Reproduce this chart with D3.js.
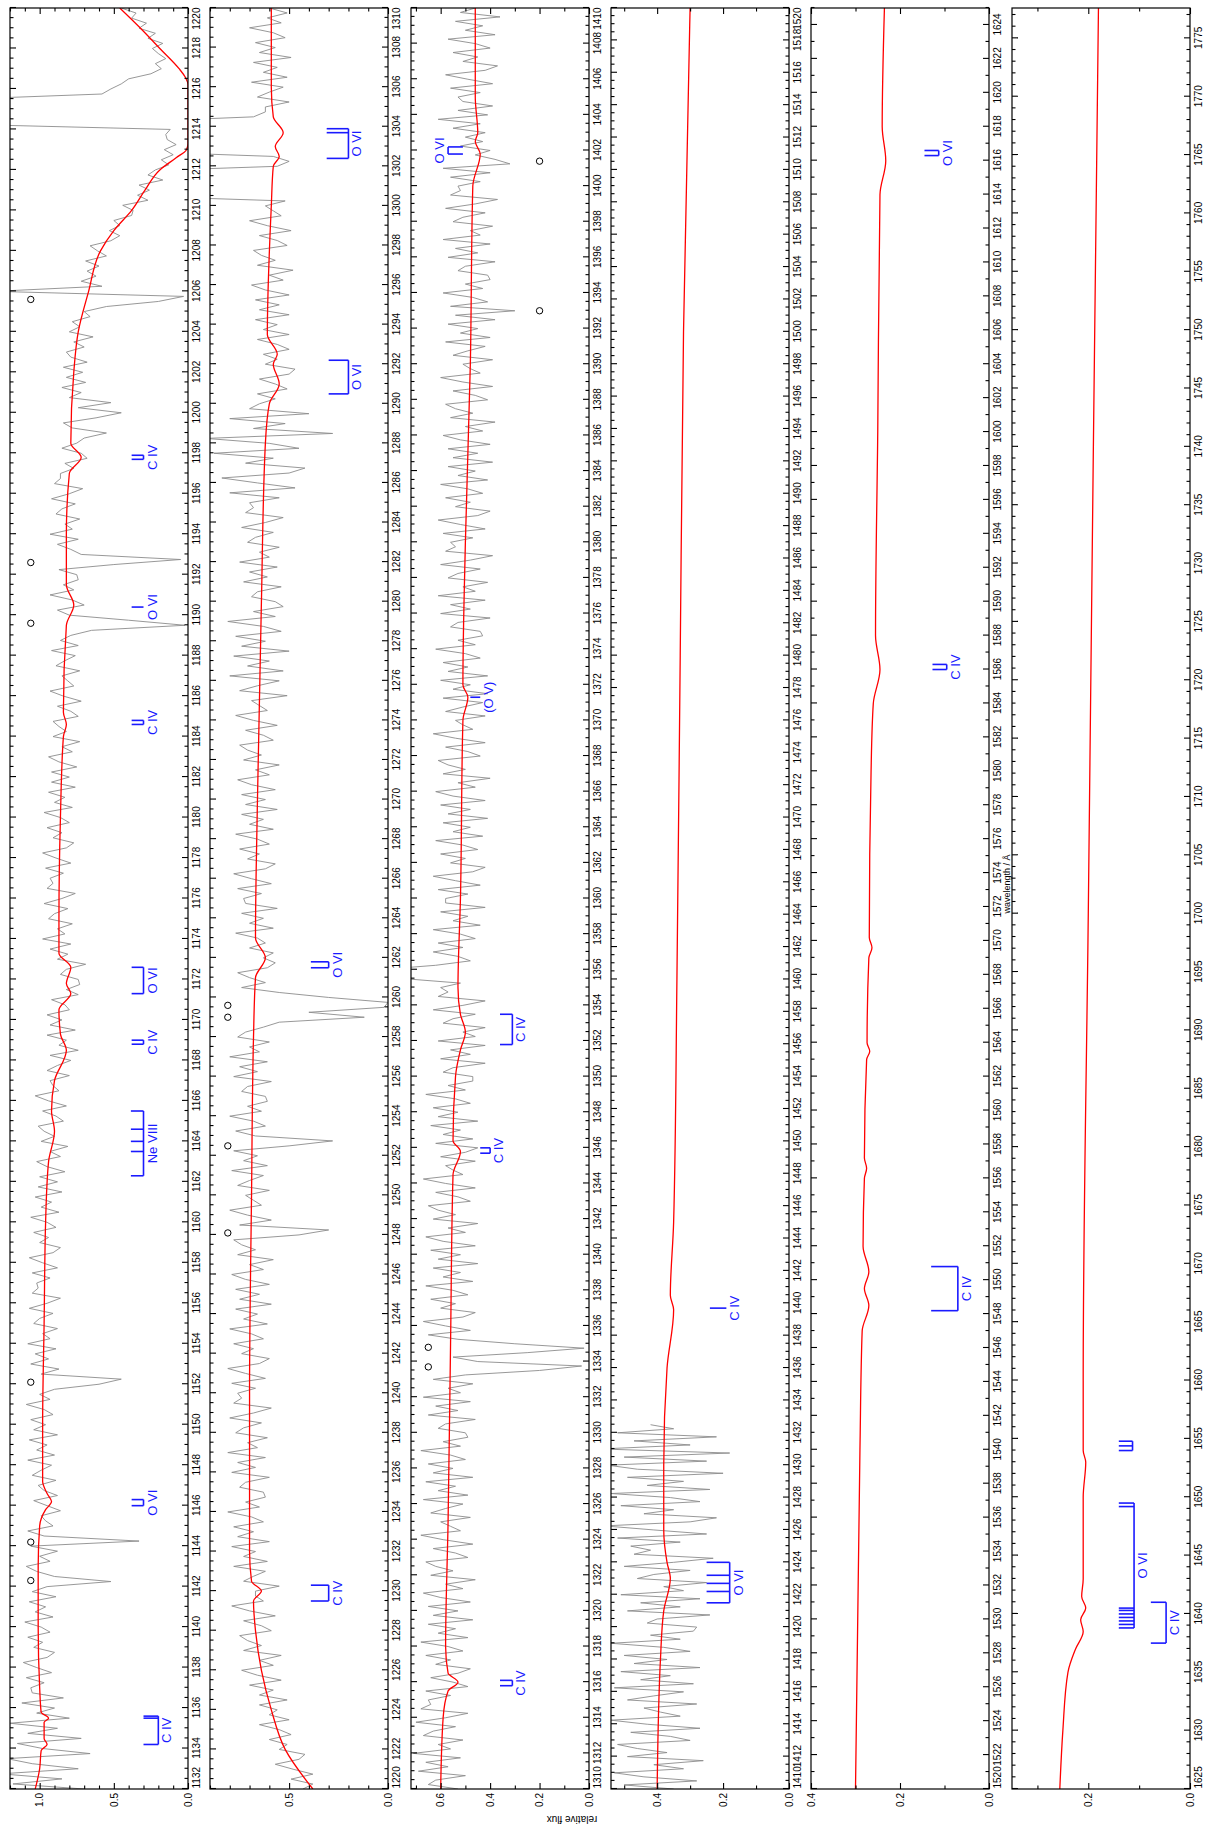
<!DOCTYPE html>
<html>
<head>
<meta charset="utf-8">
<script src="https://cdn.jsdelivr.net/npm/d3@7"></script>
<style>
  body { margin: 0; background: #fff; }
  svg { display: block; }
  text { font-family: "Liberation Sans", Arial, sans-serif; }
</style>
</head>
<body>
<div id="chart"></div>
<script>
// ---- data -------------------------------------------------------------
const panelRanges = [[1132, 1220], [1220, 1310], [1310, 1410], [1410, 1520], [1520, 1625], [1625, 1777.6]];
const fluxMax = [1.2, 0.9, 0.72, 0.54, 0.40, 0.35];
const fluxLabels = [[0, 0.5, 1.0], [0, 0.5], [0, 0.2, 0.4, 0.6], [0, 0.2, 0.4], [0, 0.2, 0.4], [0, 0.2]];
const waveLabelStep = [2, 2, 2, 2, 2, 5];
const waveMinorStep = [0.5, 0.5, 0.5, 0.5, 1, 1];

// observed spectrum (grey), 0.25 A grid, one row = 5 A
const obsStart = [1132, 1220, 1310, 1410];
const obsStep = [0.25, 0.25, 0.25, 0.25];
const obsFlux1 = [
  0.70, 1.18, 0.85, 1.26, 0.74, 1.05, 1.22, 0.66, 0.98, 1.15, 0.72, 1.08, 0.88, 1.20, 0.80, 1.02, 0.90, 1.12, 0.84, 1.05,
  1.06, 0.97, 1.09, 0.92, 1.02, 1.11, 0.95, 0.90, 1.04, 0.98, 1.08, 0.93, 0.99, 1.10, 0.91, 1.03, 0.96, 1.07, 0.89, 1.05,
  0.95, 0.52, 0.90, 1.02, 1.09, 0.93, 1.00, 0.88, 1.06, 0.33, 0.97, 1.08, 0.91, 0.96, 0.99, 0.86, 0.95, 1.04, 0.88, 0.97,
  1.01, 0.89, 1.05, 0.99, 0.92, 1.08, 0.90, 1.02, 0.95, 1.07, 0.88, 1.04, 0.96, 1.06, 0.91, 0.97, 1.09, 0.93, 1.00, 0.90,
  0.60, 0.45, 0.99, 0.87, 1.06, 0.94, 1.03, 0.89, 1.08, 0.93, 0.98, 0.88, 1.04, 1.00, 0.91, 1.07, 0.95, 0.86, 1.05, 1.01,
  1.02, 0.93, 1.05, 0.88, 0.98, 1.07, 0.91, 0.86, 1.00, 0.94, 1.04, 0.89, 0.95, 1.06, 0.87, 0.99, 0.92, 1.03, 0.85, 1.01,
  0.88, 1.00, 0.83, 0.95, 1.02, 0.86, 0.93, 0.81, 0.99, 0.90, 0.97, 1.01, 0.84, 0.89, 0.98, 0.82, 0.94, 1.03, 0.87, 0.91,
  0.93, 0.80, 0.95, 0.88, 0.79, 0.93, 0.74, 0.87, 0.82, 0.95, 0.76, 0.93, 0.85, 0.95, 0.80, 0.83, 0.92, 0.74, 0.82, 0.73,
  0.74, 0.86, 0.82, 0.69, 0.88, 0.81, 0.93, 0.79, 0.98, 0.83, 0.88, 0.78, 0.94, 0.90, 0.81, 0.97, 0.85, 0.76, 0.95, 0.91,
  0.93, 0.84, 0.96, 0.79, 0.89, 0.98, 0.82, 0.77, 0.91, 0.85, 0.95, 0.80, 0.86, 0.97, 0.78, 0.90, 0.83, 0.94, 0.76, 0.92,
  0.80, 0.92, 0.75, 0.87, 0.94, 0.78, 0.85, 0.73, 0.91, 0.82, 0.87, 0.91, 0.74, 0.79, 0.88, 0.72, 0.84, 0.93, 0.77, 0.81,
  0.85, 0.73, 0.89, 0.83, 0.76, 0.92, 0.74, 0.86, 0.79, 0.65, 0.02, 0.40, 0.80, 0.88, 0.70, 0.78, 0.93, 0.77, 0.84, 0.74,
  0.75, 0.87, 0.50, 0.05, 0.72, 0.79, 0.88, 0.74, 0.93, 0.78, 0.83, 0.73, 0.89, 0.85, 0.76, 0.92, 0.80, 0.71, 0.90, 0.86,
  0.86, 0.77, 0.83, 0.68, 0.72, 0.85, 0.75, 0.70, 0.55, 0.78, 0.84, 0.62, 0.45, 0.74, 0.52, 0.80, 0.72, 0.85, 0.69, 0.82,
  0.71, 0.84, 0.68, 0.79, 0.82, 0.70, 0.77, 0.64, 0.80, 0.73, 0.78, 0.66, 0.70, 0.55, 0.20, 0.03, 1.30, 0.58, 0.72, 0.62,
  0.68, 0.60, 0.69, 0.55, 0.61, 0.66, 0.52, 0.46, 0.53, 0.46, 0.50, 0.38, 0.37, 0.44, 0.27, 0.34, 0.26, 0.33, 0.17, 0.27,
  0.22, 0.13, 0.18, 0.10, 0.16, 0.08, 0.14, 0.15, 0.12, 1.50, 1.50, 1.50, 1.50, 1.50, 1.50, 0.58, 0.52, 0.45, 0.40, 0.25,
  0.18, 0.22, 0.15, 0.20, 0.24, 0.17, 0.27, 0.22, 0.33, 0.28, 0.38, 0.35, 0.45];
const obsFlux2 = [
  0.43, 0.38, 0.49, 0.38, 0.48, 0.57, 0.45, 0.42, 0.55, 0.51, 0.60, 0.49, 0.55, 0.65, 0.50, 0.60, 0.56, 0.65, 0.51, 0.65,
  0.58, 0.70, 0.54, 0.66, 0.74, 0.58, 0.65, 0.54, 0.73, 0.64, 0.71, 0.75, 0.59, 0.64, 0.73, 0.57, 0.70, 0.79, 0.63, 0.67,
  0.67, 0.55, 0.73, 0.68, 0.62, 0.78, 0.61, 0.73, 0.67, 0.79, 0.60, 0.76, 0.68, 0.78, 0.63, 0.69, 0.81, 0.65, 0.72, 0.62,
  0.63, 0.75, 0.72, 0.60, 0.79, 0.67, 0.76, 0.62, 0.81, 0.66, 0.71, 0.61, 0.77, 0.73, 0.64, 0.80, 0.68, 0.59, 0.78, 0.74,
  0.76, 0.67, 0.79, 0.62, 0.72, 0.81, 0.65, 0.60, 0.74, 0.68, 0.78, 0.63, 0.69, 0.80, 0.61, 0.73, 0.66, 0.77, 0.59, 0.75,
  0.65, 0.77, 0.60, 0.72, 0.79, 0.63, 0.70, 0.58, 0.76, 0.67, 0.74, 0.78, 0.45, 0.30, 0.75, 0.59, 0.71, 0.80, 0.64, 0.68,
  0.72, 0.60, 0.76, 0.70, 0.63, 0.79, 0.61, 0.73, 0.66, 0.78, 0.50, 0.28, 0.67, 0.77, 0.62, 0.68, 0.80, 0.64, 0.71, 0.61,
  0.62, 0.74, 0.71, 0.59, 0.78, 0.66, 0.75, 0.61, 0.80, 0.65, 0.70, 0.60, 0.76, 0.72, 0.63, 0.55, 0.12, 0.40, 0.02, 0.00,
  0.30, 0.55, 0.74, 0.62, 0.70, 0.76, 0.61, 0.57, 0.63, 0.58, 0.70, 0.62, 0.66, 0.77, 0.58, 0.70, 0.63, 0.74, 0.56, 0.72,
  0.73, 0.64, 0.76, 0.59, 0.69, 0.78, 0.62, 0.57, 0.71, 0.65, 0.75, 0.60, 0.66, 0.77, 0.58, 0.70, 0.63, 0.74, 0.56, 0.72,
  0.62, 0.74, 0.57, 0.69, 0.76, 0.60, 0.67, 0.55, 0.73, 0.64, 0.71, 0.75, 0.58, 0.63, 0.72, 0.56, 0.68, 0.77, 0.61, 0.65,
  0.69, 0.51, 0.75, 0.66, 0.55, 0.80, 0.53, 0.71, 0.60, 0.78, 0.50, 0.74, 0.62, 0.77, 0.54, 0.63, 0.81, 0.57, 0.68, 0.53,
  0.57, 0.69, 0.66, 0.54, 0.73, 0.61, 0.70, 0.56, 0.75, 0.60, 0.65, 0.55, 0.71, 0.67, 0.58, 0.74, 0.62, 0.53, 0.72, 0.68,
  0.70, 0.55, 0.80, 0.47, 0.66, 0.84, 0.50, 0.42, 0.72, 0.58, 0.88, 0.45, 0.60, 0.92, 0.28, 0.68, 0.52, 0.80, 0.40, 0.70,
  0.65, 0.57, 0.66, 0.51, 0.57, 0.65, 0.50, 0.47, 0.62, 0.56, 0.63, 0.50, 0.56, 0.66, 0.50, 0.63, 0.56, 0.67, 0.50, 0.65,
  0.55, 0.67, 0.50, 0.62, 0.69, 0.53, 0.60, 0.48, 0.66, 0.57, 0.64, 0.68, 0.51, 0.56, 0.65, 0.49, 0.61, 0.70, 0.54, 0.58,
  0.62, 0.52, 1.30, 1.30, 1.30, 1.30, 1.30, 1.30, 0.56, 0.50, 0.58, 1.30, 1.30, 1.30, 1.30, 1.30, 1.30, 1.30, 0.68, 0.62,
  0.62, 0.50, 0.66, 0.60, 0.53, 0.69, 0.51, 0.63, 0.56, 0.68, 0.49, 0.65, 0.57, 0.67, 0.52, 0.58, 0.70, 0.54, 0.61, 0.51,
  0.60];
const obsFlux3 = [
  0.53, 0.65, 0.62, 0.50, 0.69, 0.57, 0.66, 0.52, 0.71, 0.56, 0.61, 0.51, 0.67, 0.63, 0.54, 0.70, 0.58, 0.49, 0.68, 0.64,
  0.65, 0.56, 0.66, 0.49, 0.55, 0.64, 0.53, 0.48, 0.62, 0.56, 0.66, 0.51, 0.57, 0.68, 0.49, 0.61, 0.54, 0.65, 0.47, 0.63,
  0.53, 0.65, 0.48, 0.60, 0.67, 0.51, 0.58, 0.46, 0.64, 0.55, 0.62, 0.66, 0.49, 0.54, 0.63, 0.47, 0.59, 0.68, 0.52, 0.56,
  0.60, 0.48, 0.64, 0.58, 0.51, 0.67, 0.49, 0.61, 0.54, 0.66, 0.47, 0.63, 0.55, 0.65, 0.50, 0.56, 0.68, 0.52, 0.59, 0.49,
  0.50, 0.61, 0.58, 0.46, 0.65, 0.53, 0.62, 0.48, 0.67, 0.52, 0.57, 0.47, 0.63, 0.50, 0.20, 0.03, 0.45, 0.55, 0.25, 0.02,
  0.30, 0.53, 0.65, 0.48, 0.58, 0.67, 0.51, 0.46, 0.60, 0.54, 0.64, 0.49, 0.55, 0.66, 0.47, 0.59, 0.52, 0.63, 0.45, 0.61,
  0.52, 0.64, 0.46, 0.59, 0.66, 0.50, 0.57, 0.45, 0.63, 0.54, 0.61, 0.65, 0.48, 0.53, 0.62, 0.46, 0.58, 0.67, 0.51, 0.55,
  0.58, 0.46, 0.60, 0.50, 0.45, 0.62, 0.47, 0.59, 0.52, 0.64, 0.45, 0.61, 0.53, 0.63, 0.48, 0.54, 0.66, 0.50, 0.57, 0.47,
  0.47, 0.59, 0.55, 0.42, 0.60, 0.48, 0.56, 0.42, 0.61, 0.46, 0.51, 0.42, 0.59, 0.55, 0.46, 0.63, 0.51, 0.42, 0.61, 0.57,
  0.60, 0.52, 0.75, 1.00, 0.85, 0.62, 0.48, 0.53, 0.63, 0.51, 0.61, 0.46, 0.52, 0.63, 0.44, 0.55, 0.49, 0.60, 0.42, 0.58,
  0.58, 0.49, 0.61, 0.44, 0.54, 0.63, 0.47, 0.42, 0.56, 0.50, 0.60, 0.45, 0.51, 0.62, 0.43, 0.55, 0.48, 0.59, 0.41, 0.57,
  0.48, 0.60, 0.42, 0.55, 0.62, 0.46, 0.53, 0.40, 0.59, 0.50, 0.57, 0.61, 0.44, 0.49, 0.58, 0.42, 0.54, 0.63, 0.47, 0.51,
  0.54, 0.42, 0.58, 0.51, 0.43, 0.59, 0.41, 0.55, 0.48, 0.60, 0.41, 0.57, 0.49, 0.59, 0.44, 0.50, 0.62, 0.46, 0.53, 0.43,
  0.44, 0.56, 0.53, 0.40, 0.60, 0.48, 0.56, 0.42, 0.61, 0.46, 0.51, 0.41, 0.57, 0.53, 0.44, 0.60, 0.48, 0.39, 0.58, 0.54,
  0.56, 0.47, 0.59, 0.42, 0.52, 0.61, 0.45, 0.40, 0.54, 0.48, 0.58, 0.43, 0.49, 0.60, 0.41, 0.53, 0.46, 0.57, 0.39, 0.55,
  0.45, 0.57, 0.40, 0.52, 0.59, 0.43, 0.50, 0.38, 0.56, 0.47, 0.54, 0.58, 0.41, 0.46, 0.55, 0.39, 0.51, 0.60, 0.44, 0.48,
  0.51, 0.39, 0.55, 0.49, 0.42, 0.58, 0.40, 0.52, 0.45, 0.57, 0.38, 0.54, 0.30, 0.56, 0.41, 0.47, 0.59, 0.43, 0.50, 0.40,
  0.41, 0.53, 0.50, 0.38, 0.57, 0.45, 0.54, 0.40, 0.59, 0.44, 0.48, 0.39, 0.55, 0.51, 0.42, 0.58, 0.46, 0.37, 0.56, 0.52,
  0.53, 0.44, 0.56, 0.40, 0.59, 0.32, 0.38, 0.46, 0.40, 0.52, 0.43, 0.50, 0.42, 0.55, 0.44, 0.61, 0.41, 0.53, 0.39, 0.51,
  0.53, 0.44, 0.56, 0.39, 0.49, 0.58, 0.42, 0.37, 0.51, 0.45, 0.55, 0.40, 0.46, 0.57, 0.38, 0.50, 0.43, 0.54, 0.36, 0.52,
  0.46];
const obsFlux4 = [
  0.35, 0.50, 0.28, 0.44, 0.53, 0.32, 0.41, 0.26, 0.49, 0.37, 0.46, 0.52, 0.30, 0.36, 0.48, 0.27, 0.43, 0.54, 0.33, 0.39,
  0.44, 0.28, 0.49, 0.41, 0.32, 0.53, 0.29, 0.45, 0.36, 0.51, 0.27, 0.47, 0.37, 0.50, 0.30, 0.38, 0.54, 0.33, 0.42, 0.29,
  0.28, 0.43, 0.40, 0.24, 0.49, 0.33, 0.45, 0.27, 0.51, 0.32, 0.38, 0.25, 0.46, 0.41, 0.30, 0.50, 0.35, 0.23, 0.47, 0.42,
  0.48, 0.33, 0.52, 0.25, 0.41, 0.56, 0.30, 0.22, 0.44, 0.35, 0.51, 0.27, 0.36, 0.54, 0.24, 0.43, 0.32, 0.49, 0.20, 0.46,
  0.55, 0.25, 0.50, 0.18, 0.57, 0.30, 0.47, 0.22, 0.52, 0.35, 0.42];

// synthetic spectrum (red): [wavelength, flux]
const model1 = [[1132, 1.03], [1133, 1.0], [1133.9, 0.99], [1134.2, 0.95], [1134.5, 0.97], [1135.3, 0.97], [1135.5, 0.94], [1135.8, 0.99],
  [1137, 1.0], [1140, 1.01], [1143, 1.01], [1145, 1.0], [1145.8, 0.96], [1146.2, 0.92], [1146.6, 0.95], [1147.2, 0.98], [1150, 0.98],
  [1155, 0.97], [1160, 0.96], [1163, 0.94], [1164.5, 0.9], [1165.5, 0.92], [1167, 0.9], [1168.5, 0.82], [1169.3, 0.86], [1170.5, 0.87],
  [1171.3, 0.79], [1171.8, 0.82], [1172.6, 0.79], [1173.3, 0.87], [1175, 0.87], [1180, 0.86], [1184, 0.84], [1184.6, 0.82], [1185.2, 0.84],
  [1189.5, 0.82], [1190.5, 0.77], [1191.5, 0.82], [1194, 0.82], [1197, 0.8], [1197.8, 0.72], [1198.5, 0.79], [1202, 0.77], [1204, 0.74],
  [1206, 0.67], [1208, 0.59], [1209, 0.5], [1210, 0.38], [1211, 0.29], [1212, 0.19], [1212.6, 0.08], [1213, 0.01], [1213.3, 0],
  [1216.2, 0], [1216.6, 0.02], [1217, 0.06], [1218, 0.19], [1219, 0.32], [1220, 0.46]];
const model2 = [[1220, 0.38], [1222, 0.52], [1224, 0.59], [1226, 0.64], [1228, 0.67], [1229.5, 0.68], [1230, 0.64], [1230.5, 0.69],
  [1232, 0.7], [1240, 0.7], [1250, 0.69], [1258, 0.68], [1261, 0.67], [1262, 0.62], [1263, 0.67], [1270, 0.66], [1280, 0.64],
  [1288, 0.62], [1290, 0.6], [1291, 0.55], [1292, 0.58], [1292.5, 0.56], [1293.5, 0.61], [1300, 0.59], [1302, 0.58], [1302.5, 0.55],
  [1303, 0.57], [1303.7, 0.53], [1304.5, 0.58], [1306, 0.59], [1310, 0.59]];
const model3 = [[1310, 0.6], [1314, 0.59], [1315.5, 0.57], [1316, 0.53], [1316.5, 0.57], [1318, 0.58], [1325, 0.57], [1335, 0.56],
  [1344.5, 0.55], [1345.8, 0.52], [1346.4, 0.55], [1350, 0.54], [1351.5, 0.52], [1352.5, 0.5], [1353.5, 0.52], [1355, 0.53], [1360, 0.52],
  [1370, 0.51], [1371.3, 0.49], [1372, 0.51], [1380, 0.5], [1390, 0.48], [1400, 0.47], [1401.8, 0.44], [1402.5, 0.46], [1403, 0.45],
  [1405, 0.46], [1410, 0.46]];
const model4 = [[1410, 0.4], [1418, 0.39], [1421, 0.38], [1423, 0.36], [1424, 0.37], [1426, 0.38], [1430, 0.38], [1436, 0.37],
  [1439.6, 0.35], [1440.5, 0.36], [1445, 0.35], [1460, 0.34], [1480, 0.33], [1500, 0.32], [1520, 0.3]];
const model5 = [[1520, 0.3], [1540, 0.29], [1547, 0.285], [1548.5, 0.27], [1549.5, 0.28], [1550.5, 0.27], [1552, 0.283], [1556, 0.28],
  [1556.6, 0.275], [1557.2, 0.28], [1563, 0.275], [1563.5, 0.268], [1564, 0.274], [1569, 0.27], [1569.6, 0.263], [1570.2, 0.269],
  [1580, 0.265], [1584, 0.26], [1586, 0.245], [1588, 0.255], [1600, 0.25], [1614, 0.245], [1616, 0.232], [1618, 0.24], [1625, 0.235]];
const model6 = [[1625, 0.256], [1630, 0.25], [1635, 0.24], [1637, 0.225], [1638.5, 0.21], [1639.5, 0.215], [1640.5, 0.205],
  [1641.5, 0.213], [1643, 0.21], [1650, 0.21], [1653, 0.205], [1654, 0.21], [1660, 0.21], [1700, 0.2], [1740, 0.19], [1777.6, 0.18]];

// interstellar lines (open circles): panel, flux level, wavelengths
const ismPanel = [0, 1, 2, 2];
const ismLevel = [1.06, 0.81, 0.65, 0.2];
const ismWaves = [[1142.3, 1144.2, 1152.1, 1189.6, 1192.6, 1205.6], [1248.1, 1252.5, 1259.0, 1259.6], [1333.7, 1334.8], [1393.0, 1401.4]];

// line identifications: panel, wavelengths, label, tick start / end (flux)
const idPanel = [0, 0, 0, 0, 0, 0, 0, 0, 1, 1, 1, 1, 2, 2, 2, 2, 2, 3, 3, 4, 4, 4, 5, 5, 5];
const idWaves = [[1134.2, 1135.5, 1135.6], [1146.0, 1146.3], [1162.3, 1163.5, 1164.0, 1164.6, 1165.5], [1168.8, 1169.0],
  [1171.3, 1172.6], [1184.6, 1184.8], [1190.4], [1197.7, 1197.9],
  [1229.5, 1230.3], [1261.5, 1261.8], [1290.5, 1292.2], [1302.4, 1303.7, 1303.9],
  [1315.8, 1316.1], [1345.7, 1346.0], [1351.8, 1353.5], [1371.3], [1401.8, 1402.2],
  [1421.5, 1422.2, 1422.7, 1423.2, 1424.0], [1439.7],
  [1548.2, 1550.8], [1586.0, 1586.3], [1616.3, 1616.6],
  [1637.5, 1641.0], [1638.8, 1639.1, 1639.4, 1639.7, 1640.0, 1640.3, 1640.5, 1649.2, 1649.5], [1654.0, 1654.4, 1654.8]];
const idLabel = ['C IV', 'O VI', 'Ne VIII', 'C IV', 'O VI', 'C IV', 'O VI', 'C IV',
  'C IV', 'O VI', 'O VI', 'O VI',
  'C IV', 'C IV', 'C IV', '(O V)', 'O VI',
  'O VI', 'C IV',
  'C IV', 'C IV', 'O VI',
  'C IV', 'O VI', ''];
const idFrom = [0.30, 0.38, 0.385, 0.38, 0.38, 0.38, 0.38, 0.38,
  0.39, 0.39, 0.30, 0.31,
  0.36, 0.44, 0.36, 0.48, 0.51,
  0.25, 0.24,
  0.13, 0.127, 0.145,
  0.077, 0.14, 0.14];
const idTo = [0.20, 0.30, 0.30, 0.30, 0.30, 0.30, 0.30, 0.30,
  0.30, 0.30, 0.20, 0.20,
  0.31, 0.40, 0.31, 0.44, 0.57,
  0.18, 0.19,
  0.07, 0.095, 0.113,
  0.047, 0.11, 0.113];

// ---- layout -----------------------------------------------------------
const W = 1216, H = 1827;
const PL = 38, PW = 1781, PH = 178;
const panelTop = [10, 210, 411, 611, 811, 1012];
const BLUE = '#1a1aff';

const obsFlux = [obsFlux1, obsFlux2, obsFlux3, obsFlux4];
const models = [model1, model2, model3, model4, model5, model6];

const svg = d3.select('#chart').append('svg')
  .attr('width', W)
  .attr('height', H);

// the figure is drawn landscape and turned by 90 degrees
const root = svg.append('g')
  .attr('transform', `translate(0,${H}) rotate(-90)`);

function ticksBetween(a, b, step) {
  const out = [];
  for (let k = Math.ceil(a / step - 1e-6); k * step <= b + 1e-6; k++) out.push(+(k * step).toFixed(3));
  return out;
}

panelRanges.forEach((range, i) => {
  const g = root.append('g').attr('transform', `translate(${PL},${panelTop[i]})`);
  const x = d3.scaleLinear().domain(range).range([0, PW]);
  const y = d3.scaleLinear().domain([0, fluxMax[i]]).range([PH, 0]);
  const line = d3.line().x(d => x(d[0])).y(d => y(d[1]));

  g.append('clipPath').attr('id', `clip${i}`)
    .append('rect').attr('width', PW).attr('height', PH);
  const plot = g.append('g').attr('clip-path', `url(#clip${i})`);

  if (obsFlux[i]) {
    const pts = obsFlux[i].map((v, k) => [obsStart[i] + k * obsStep[i], v]);
    plot.append('path')
      .datum(pts)
      .attr('d', line)
      .attr('fill', 'none')
      .attr('stroke', '#8c8c8c')
      .attr('stroke-width', 0.9);
  }

  plot.append('path')
    .datum(models[i])
    .attr('d', d3.line().curve(d3.curveMonotoneX).x(d => x(d[0])).y(d => y(d[1])))
    .attr('fill', 'none')
    .attr('stroke', '#ff0000')
    .attr('stroke-width', 1.3);

  // open circles
  ismPanel.forEach((p, k) => {
    if (p !== i) return;
    g.selectAll(null).data(ismWaves[k]).join('circle')
      .attr('cx', d => x(d))
      .attr('cy', y(ismLevel[k]))
      .attr('r', 3.2)
      .attr('fill', 'none')
      .attr('stroke', '#000')
      .attr('stroke-width', 1);
  });

  // line identifications
  idPanel.forEach((p, k) => {
    if (p !== i) return;
    const ws = idWaves[k];
    const y0 = y(idFrom[k]), y1 = y(idTo[k]);
    const down = y1 > y0;
    const mg = g.append('g').attr('stroke', BLUE).attr('stroke-width', 1.6);
    ws.forEach(w => {
      mg.append('line').attr('x1', x(w)).attr('x2', x(w)).attr('y1', y0).attr('y2', y1);
    });
    if (ws.length > 1) {
      mg.append('line').attr('x1', x(d3.min(ws))).attr('x2', x(d3.max(ws))).attr('y1', y1).attr('y2', y1);
    }
    g.append('text')
      .attr('x', x((d3.min(ws) + d3.max(ws)) / 2))
      .attr('y', down ? y1 + 13 : y1 - 4)
      .attr('text-anchor', 'middle')
      .attr('fill', BLUE)
      .attr('font-size', 13)
      .text(idLabel[k]);
  });

  // wavelength axes (bottom with labels, top mirrored)
  const majors = ticksBetween(range[0], range[1], waveLabelStep[i]);
  const minors = ticksBetween(range[0], range[1], waveMinorStep[i]).filter(v => !majors.includes(v));
  const bottom = g.append('g').attr('transform', `translate(0,${PH})`)
    .call(d3.axisBottom(x).tickValues(majors).tickSize(-6).tickPadding(5).tickFormat(d3.format('d')));
  g.append('g').attr('transform', `translate(0,${PH})`)
    .call(d3.axisBottom(x).tickValues(minors).tickSize(-3.5).tickFormat(''));
  g.append('g').call(d3.axisTop(x).tickValues(majors).tickSize(-6).tickFormat(''));
  g.append('g').call(d3.axisTop(x).tickValues(minors).tickSize(-3.5).tickFormat(''));

  // flux axes (left with labels, right mirrored)
  const fMajor = fluxLabels[i];
  const fMinor = ticksBetween(0, fluxMax[i], 0.1).filter(v => !fMajor.some(m => Math.abs(m - v) < 1e-6));
  g.append('g').call(d3.axisLeft(y).tickValues(fMajor).tickSize(-6).tickPadding(4).tickFormat(d3.format('.1f')));
  g.append('g').call(d3.axisLeft(y).tickValues(fMinor).tickSize(-3.5).tickFormat(''));
  g.append('g').attr('transform', `translate(${PW},0)`)
    .call(d3.axisRight(y).tickValues(fMajor).tickSize(-6).tickFormat(''));
  g.append('g').attr('transform', `translate(${PW},0)`)
    .call(d3.axisRight(y).tickValues(fMinor).tickSize(-3.5).tickFormat(''));

  g.selectAll('.domain').remove();
  g.selectAll('.tick line').attr('stroke', '#000').attr('stroke-width', 1.1);
  g.selectAll('.tick text').attr('font-size', 10).attr('fill', '#000')
    .style('font-family', '"Liberation Sans", Arial, sans-serif');

  // keep end labels inside the axis
  bottom.selectAll('.tick').each(function (d) {
    const t = d3.select(this).select('text').node();
    const w = t.getComputedTextLength();
    const px = x(d);
    if (px - w / 2 < 0) d3.select(t).attr('x', w / 2 - px);
    if (px + w / 2 > PW) d3.select(t).attr('x', PW - px - w / 2);
  });

  g.append('rect')
    .attr('width', PW).attr('height', PH)
    .attr('fill', 'none')
    .attr('stroke', '#000')
    .attr('stroke-width', 1.2);
});

root.append('text')
  .attr('transform', `translate(11,572) rotate(-90)`)
  .attr('text-anchor', 'middle')
  .attr('font-size', 10)
  .text('relative flux');

root.append('text')
  .attr('x', 943)
  .attr('y', 1010)
  .attr('text-anchor', 'middle')
  .attr('font-size', 9)
  .text('wavelength / Å');
</script>
</body>
</html>
